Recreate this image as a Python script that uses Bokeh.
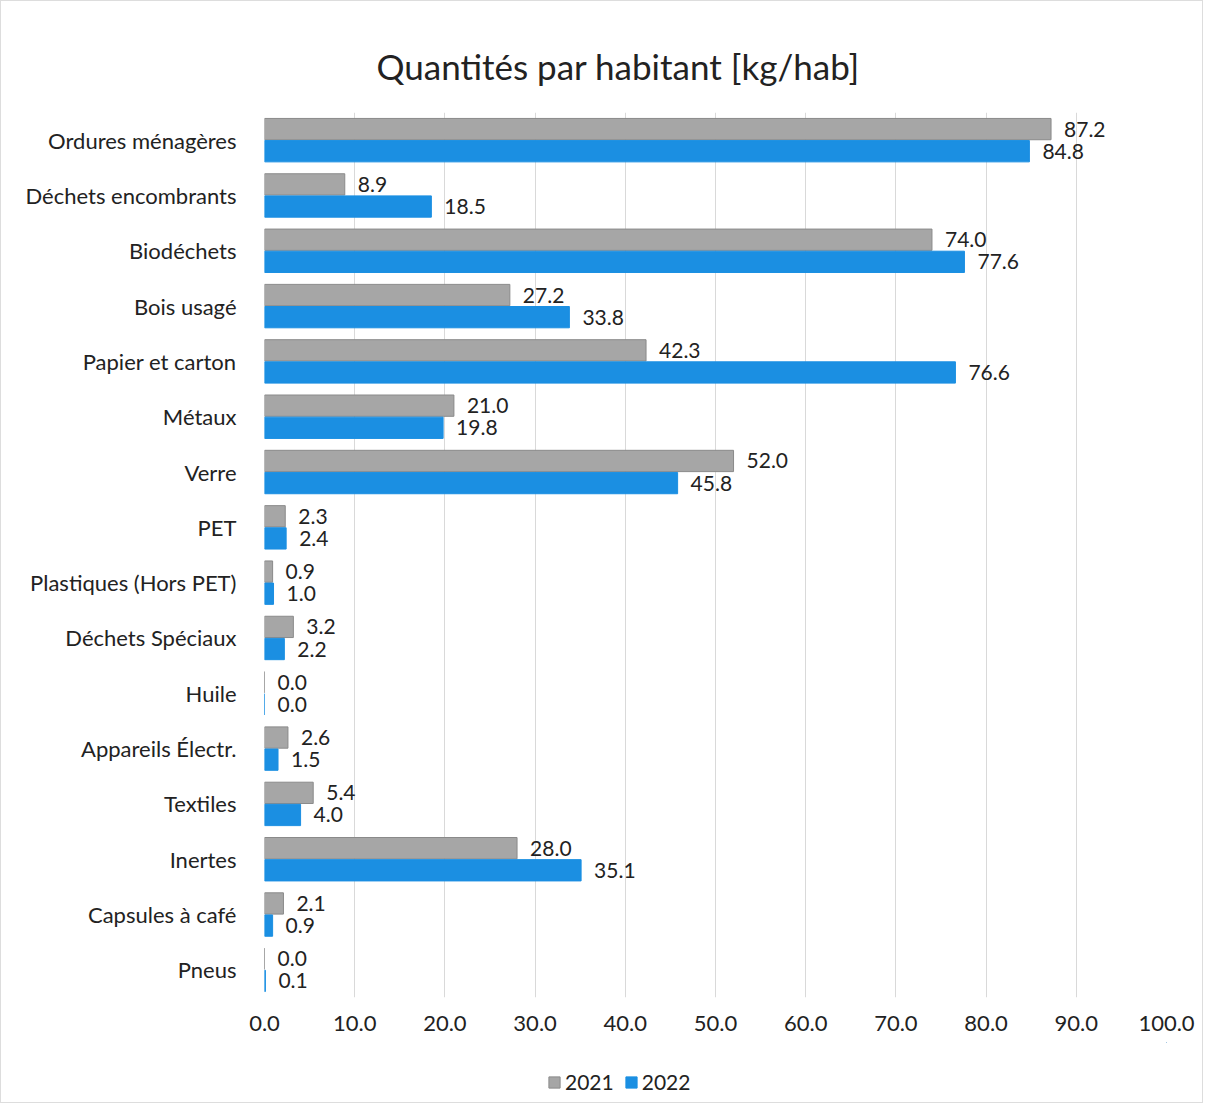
from bokeh.plotting import figure
from bokeh.layouts import column
from bokeh.models import (ColumnDataSource, FactorRange, FixedTicker, NumeralTickFormatter,
                          Legend, LegendItem, Range1d)
from bokeh.transform import dodge
from bokeh.core.properties import value
from bokeh.embed import file_html
from bokeh.resources import INLINE

categories = ["Ordures ménagères", "Déchets encombrants", "Biodéchets", "Bois usagé",
              "Papier et carton", "Métaux", "Verre", "PET", "Plastiques (Hors PET)",
              "Déchets Spéciaux", "Huile", "Appareils Électr.", "Textiles", "Inertes",
              "Capsules à café", "Pneus"]
v2021 = [87.2, 8.9, 74.0, 27.2, 42.3, 21.0, 52.0, 2.3, 0.9, 3.2, 0.0, 2.6, 5.4, 28.0, 2.1, 0.0]
v2022 = [84.8, 18.5, 77.6, 33.8, 76.6, 19.8, 45.8, 2.4, 1.0, 2.2, 0.0, 1.5, 4.0, 35.1, 0.9, 0.1]
series = ["2021", "2022"]
x_ticks = [0, 10, 20, 30, 40, 50, 60, 70, 80, 90, 100]

FONT = "Lato"
GRAY = "#a6a6a6"
BLUE = "#1b8fe2"
TXT = "#222222"

src = ColumnDataSource(dict(
    cat=categories, v2021=v2021, v2022=v2022,
    l2021=[f"{v:.1f}" for v in v2021], l2022=[f"{v:.1f}" for v in v2022],
))

p = figure(frame_width=902, frame_height=885, output_backend="svg", toolbar_location=None,
           y_range=FactorRange(factors=list(reversed(categories))), x_range=(0, 100),
           min_border_left=263, min_border_right=36, min_border_top=111, min_border_bottom=45)

p.hbar(y=dodge("cat", 0.2, range=p.y_range), right="v2021", left=0, height=0.385,
       source=src, fill_color=GRAY, line_color="#8a8a8a", line_width=1)
p.hbar(y=dodge("cat", -0.2, range=p.y_range), right="v2022", left=0, height=0.385,
       source=src, fill_color=BLUE, line_color=BLUE, line_width=1)

p.text(x="v2021", y=dodge("cat", 0.2, range=p.y_range), text="l2021", source=src,
       x_offset=13, text_baseline="middle", text_align="left", text_font=value(FONT),
       text_font_size="21px", text_color=TXT)
p.text(x="v2022", y=dodge("cat", -0.2, range=p.y_range), text="l2022", source=src,
       x_offset=13, text_baseline="middle", text_align="left", text_font=value(FONT),
       text_font_size="21px", text_color=TXT)

p.title.text = "Quantités par habitant [kg/hab]"
p.title.align = "left"
p.title.offset = 112
p.title.text_font = FONT
p.title.text_font_size = "35px"
p.title.text_font_style = "normal"
p.title.text_color = TXT
p.title.standoff = 52

p.xaxis.ticker = FixedTicker(ticks=x_ticks)
p.xaxis.formatter = NumeralTickFormatter(format="0.0")
for ax in (p.xaxis[0], p.yaxis[0]):
    ax.axis_line_color = None
    ax.major_tick_line_color = None
    ax.minor_tick_line_color = None
    ax.major_label_text_font = FONT
    ax.major_label_text_font_size = "22px"
    ax.major_label_text_color = TXT
p.yaxis.major_label_standoff = 22
p.xaxis.major_label_standoff = 12

p.ygrid.grid_line_color = None
p.xgrid.grid_line_color = "#d9d9d9"
p.outline_line_color = None

# legend strip below the chart (its renderers hold one off-range item so only the legend shows)
lg = figure(width=1201, height=60, output_backend="svg", toolbar_location=None,
            x_range=Range1d(0, 1), y_range=Range1d(0, 1),
            x_axis_location=None, y_axis_location=None,
            min_border_left=0, min_border_right=0, min_border_top=0, min_border_bottom=0)
lg.grid.visible = False
lg.outline_line_color = None
g1 = lg.hbar(y=[5], left=[4], right=[5], height=0.1, fill_color=GRAY, line_color="#8a8a8a")
g2 = lg.hbar(y=[5], left=[4], right=[5], height=0.1, fill_color=BLUE, line_color=BLUE)

legend = Legend(items=[LegendItem(label=series[0], renderers=[g1]),
                       LegendItem(label=series[1], renderers=[g2])],
                orientation="horizontal", location=(283, 8), label_text_font=FONT,
                label_text_font_size="21px", label_text_color=TXT,
                glyph_width=14, glyph_height=14, spacing=10, label_standoff=4, padding=4,
                border_line_color=None, background_fill_alpha=0, margin=0)
lg.add_layout(legend, "center")

layout = column(p, lg, spacing=0)
layout.styles = {"border": "1px solid #dddddd"}

open("out.html", "w").write(file_html(layout, INLINE))
